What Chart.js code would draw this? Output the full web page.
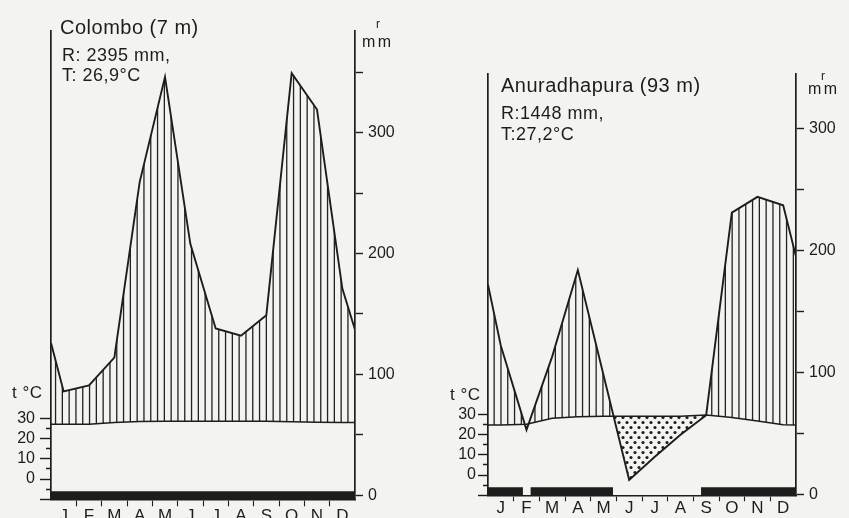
<!DOCTYPE html>
<html><head><meta charset="utf-8">
<script src="https://cdn.jsdelivr.net/npm/chart.js@4/dist/chart.umd.min.js"></script>
<style>
html,body{margin:0;padding:0}
body{background:#f3f3f0;width:849px;height:518px;overflow:hidden;position:relative;font-family:"Liberation Sans",Arial,sans-serif;color:#1d1d1d}
canvas{position:absolute;top:0}
.t{position:absolute;white-space:nowrap;line-height:1}
.ttl{font-size:20px;letter-spacing:0.5px}
.sub{font-size:18px;letter-spacing:0.5px}
.ax{font-size:17px;letter-spacing:0.5px}
.r{font-size:12px}
.mm{font-size:16px;letter-spacing:2.5px}
</style></head><body>
<canvas id="c1" width="425" height="518" style="left:0"></canvas>
<canvas id="c2" width="424" height="518" style="left:425px"></canvas>

<div class="t ttl" style="left:60px;top:17px">Colombo (7 m)</div>
<div class="t sub" style="left:62px;top:46px">R: 2395 mm,</div>
<div class="t sub" style="left:62px;top:66px">T: 26,9°C</div>
<div class="t ax" style="left:12px;top:384px">t °C</div>
<div class="t r" style="left:376px;top:18px">r</div>
<div class="t mm" style="left:362px;top:34px">mm</div>

<div class="t ttl" style="left:501px;top:75px">Anuradhapura (93 m)</div>
<div class="t sub" style="left:501px;top:104px">R:1448 mm,</div>
<div class="t sub" style="left:501px;top:125px">T:27,2°C</div>
<div class="t ax" style="left:450px;top:386px">t °C</div>
<div class="t r" style="left:821px;top:70px">r</div>
<div class="t mm" style="left:808px;top:81px">mm</div>

<script>
// ---------- data ----------
const months = ['J','F','M','A','M','J','J','A','S','O','N','D'];

const colomboRain     = [86, 91, 114, 259, 346, 208, 138, 132, 149, 349, 319, 171];
const colomboRainEdge = [126, 137];               // curve value at the left / right axis
const colomboTemp     = [27.0, 27.0, 27.8, 28.3, 28.4, 28.4, 28.4, 28.4, 28.4, 28.2, 28.0, 27.8];
const colomboTempEdge = [27.0, 27.8];
const colomboHumid    = [0, 12];                  // humid period start/end (months)

const anuRain     = [122, 53, 113, 184, 98, 12, 31, 49, 65, 231, 244, 237];
const anuRainEdge = [172, 195];
const anuTemp     = [24.6, 25.0, 27.9, 28.7, 29.0, 29.0, 29.0, 29.0, 29.5, 28.3, 26.6, 24.8];
const anuTempEdge = [24.6, 24.6];
const anuHumid    = [0, 1.36, 1.66, 4.87, 8.3, 12];

const rainTicks    = [0, 50, 100, 150, 200, 250, 300, 350];
const rainLabelled = [0, 100, 200, 300];
const tempTicks    = [-10, -5, 0, 5, 10, 15, 20, 25, 30];
const tempLabelled = [0, 10, 20, 30];

// ---------- style ----------
const INK = '#1d1d1d';
const HUMID_BAR_LEVEL = -8;   // °C level at which the humid-period bar is drawn
Chart.defaults.font.family = '"Liberation Sans", Arial, sans-serif';
Chart.defaults.font.size = 16;
Chart.defaults.color = INK;

function makeHatch(ctx){
  const c = document.createElement('canvas'); c.width = 34; c.height = 4;
  const g = c.getContext('2d'); g.fillStyle = '#222';
  for (let k = 0; k < 5; k++) g.fillRect(k * 6.8 + 0.5, 0, 1.3, 4);
  return ctx.createPattern(c, 'repeat');
}
function makeDots(ctx){
  const c = document.createElement('canvas'); c.width = 8; c.height = 10;
  const g = c.getContext('2d'); g.fillStyle = '#1d1d1d';
  [[2,2.5],[6,7.5]].forEach(([x,y]) => { g.beginPath(); g.arc(x, y, 1.55, 0, Math.PI*2); g.fill(); });
  return ctx.createPattern(c, 'repeat');
}
function series(edge, vals){
  return [{x:0, y:edge[0]}, ...vals.map((v,i) => ({x:i+0.5, y:v})), {x:12, y:edge[1]}];
}
function humidSeries(b){
  const pts = [];
  for (let i = 0; i < b.length; i += 2){
    if (i) pts.push({x:(b[i-1]+b[i])/2, y:null});
    pts.push({x:b[i], y:HUMID_BAR_LEVEL}, {x:b[i+1], y:HUMID_BAR_LEVEL});
  }
  return pts;
}

const panels = [
  {id:'c1', rain:colomboRain, rainEdge:colomboRainEdge, temp:colomboTemp, tempEdge:colomboTempEdge, humid:colomboHumid,
   left:51, right:355, top:31, rainZero:495.5, rainPx:1.21, tempZero:479, tempPx:2.03,
   tempTickLen:11, tempPad:5, xTickLen:7, xPad:0},
  {id:'c2', rain:anuRain, rainEdge:anuRainEdge, temp:anuTemp, tempEdge:anuTempEdge, humid:anuHumid,
   left:63, right:371, top:74, rainZero:494.5, rainPx:1.22, tempZero:475, tempPx:2.03,
   tempTickLen:10, tempPad:2, xTickLen:6, xPad:-3}
];

panels.forEach(p => {
  const el = document.getElementById(p.id);
  const ctx = el.getContext('2d');
  const W = el.width, H = el.height;
  const bottom = p.tempZero + 10 * p.tempPx;          // -10 °C sits on the base line
  const rainMin = -(bottom - p.rainZero) / p.rainPx;
  const rainMax = (p.rainZero - p.top) / p.rainPx;
  const tempMax = (p.tempZero - p.top) / p.tempPx;
  const tl = p.tempTickLen;

  new Chart(el, {
    type: 'line',
    data: { datasets: [
      { data: series(p.rainEdge, p.rain), yAxisID:'yRain', borderColor:INK, borderWidth:1.9,
        pointRadius:0, tension:0, fill:{target:1, above:makeHatch(ctx), below:makeDots(ctx)} },
      { data: series(p.tempEdge, p.temp), yAxisID:'yTemp', borderColor:INK, borderWidth:1.5,
        pointRadius:0, tension:0, fill:false },
      { data: humidSeries(p.humid), yAxisID:'yTemp', borderColor:INK, borderWidth:8, borderCapStyle:'butt',
        pointRadius:0, spanGaps:false, fill:false }
    ]},
    options: {
      responsive:false, animation:false, devicePixelRatio:1, events:[],
      layout:{ padding:{ top:p.top, left:0, right:0, bottom:0 } },
      plugins:{ legend:{display:false}, tooltip:{enabled:false},
                filler:{ drawTime:'beforeDatasetsDraw', propagate:false } },
      scales:{
        x:{ type:'linear', min:0, max:12,
            afterBuildTicks: s => { const t = []; months.forEach((m,i) => { t.push({value:i+0.5}); if (i < 11) t.push({value:i+1}); }); s.ticks = t; },
            afterFit: s => { s.height = H - bottom; },
            grid:{ drawOnChartArea:false, tickLength:p.xTickLen, tickWidth:1.1,
                   tickColor: c => (c.tick && Number.isInteger(c.tick.value)) ? INK : 'rgba(0,0,0,0)' },
            border:{ color:INK, width:1.6 },
            ticks:{ autoSkip:false, maxRotation:0, minRotation:0, padding:p.xPad, font:{size:17},
                    callback: v => Number.isInteger(v) ? '' : months[Math.floor(v)] } },
        yTemp:{ axis:'y', type:'linear', position:'left', min:-10, max:tempMax,
            afterBuildTicks: s => { s.ticks = tempTicks.map(v => ({value:v})); },
            afterFit: s => { s.width = p.left; },
            grid:{ drawOnChartArea:false, tickLength:tl, tickWidth:1.4, tickColor:INK,
                   tickBorderDash: c => (c.tick && c.tick.value % 10 !== 0) ? [0, tl-5, 5, 40] : [] },
            border:{ color:INK, width:1.7 },
            ticks:{ padding:p.tempPad, callback: v => tempLabelled.includes(v) ? String(v) : '' } },
        yRain:{ axis:'y', type:'linear', position:'right', min:rainMin, max:rainMax,
            afterBuildTicks: s => { s.ticks = rainTicks.filter(v => v <= rainMax).map(v => ({value:v})); },
            afterFit: s => { s.width = W - p.right; },
            grid:{ drawOnChartArea:false, tickLength:8, tickWidth:1.4, tickColor:INK },
            border:{ color:INK, width:1.7 },
            ticks:{ padding:5, callback: v => rainLabelled.includes(v) ? String(v) : '' } }
      }
    }
  });
});
</script>
</body></html>
